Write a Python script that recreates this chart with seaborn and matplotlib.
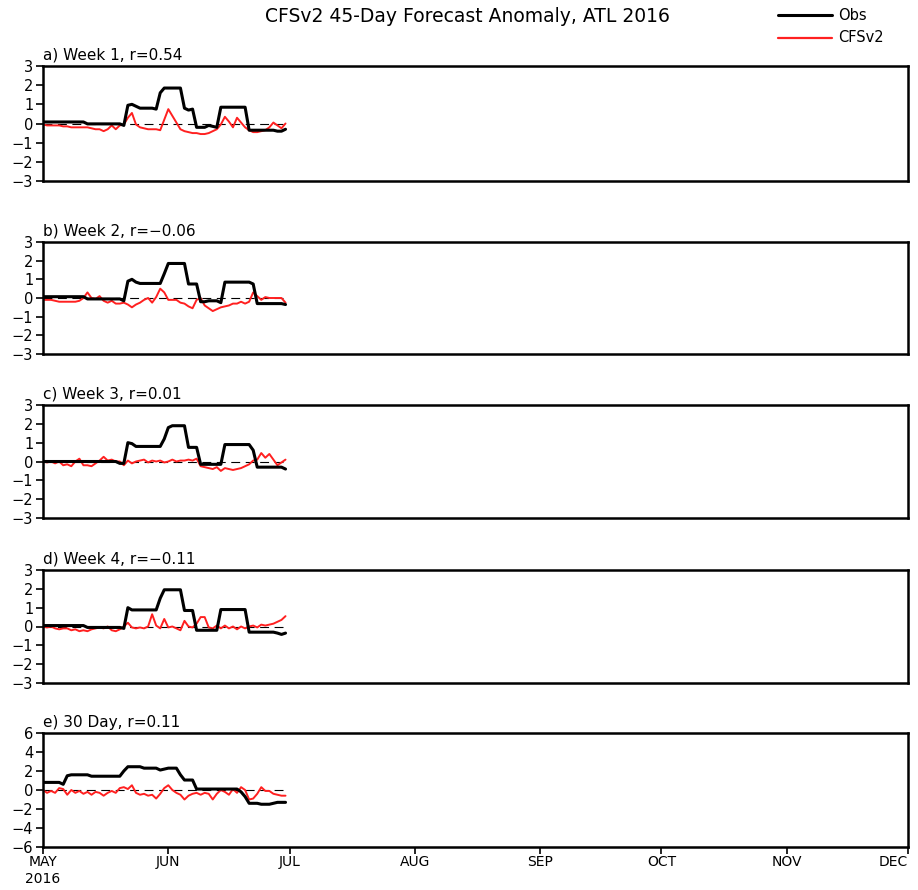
import numpy as np
import pandas as pd
import matplotlib
matplotlib.use("Agg")
import matplotlib.pyplot as plt
import matplotlib.dates as mdates
import seaborn as sns

# ---------------- data ----------------
dates = pd.date_range("2016-05-01", "2016-06-30", freq="D")

obs_a = ([0.08]*11 + [-0.02]*9 + [-0.1, 0.95, 1.0, 0.9, 0.8, 0.8, 0.8, 0.8, 0.75, 1.6,
         1.85, 1.85, 1.85, 1.85, 1.85, 0.8, 0.7, 0.75, -0.2, -0.2, -0.2, -0.1, -0.15, -0.2,
         0.85, 0.85, 0.85, 0.85, 0.85, 0.85, 0.85, -0.35, -0.35, -0.35, -0.35, -0.35, -0.35,
         -0.35, -0.4, -0.4, -0.3])
cfs_a = [-0.05, -0.1, -0.1, -0.1, -0.1, -0.15, -0.15, -0.2, -0.2, -0.2, -0.2, -0.2, -0.25,
         -0.3, -0.3, -0.4, -0.3, -0.1, -0.3, -0.1, -0.05, 0.3, 0.55, -0.05, -0.2, -0.25, -0.3,
         -0.3, -0.3, -0.35, 0.2, 0.75, 0.4, 0.05, -0.3, -0.4, -0.45, -0.5, -0.5, -0.55, -0.55,
         -0.5, -0.4, -0.3, -0.05, 0.35, 0.1, -0.2, 0.3, 0.05, -0.2, -0.35, -0.45, -0.45, -0.4,
         -0.35, -0.2, 0.05, -0.1, -0.25, 0.0]

obs_b = ([0.07]*11 + [-0.05]*9 + [-0.15, 0.9, 1.0, 0.85] + [0.78]*6 + [1.3] + [1.85]*5 +
         [0.75]*3 + [-0.2, -0.2, -0.15, -0.15, -0.15, -0.25] + [0.85]*7 + [0.75] +
         [-0.3]*7 + [-0.35])
cfs_b = [-0.1, -0.1, -0.1, -0.15, -0.2, -0.2, -0.2, -0.2, -0.2, -0.15, 0.0, 0.3, 0.0, -0.05,
         0.1, -0.15, -0.25, -0.15, -0.3, -0.3, -0.25, -0.35, -0.5, -0.35, -0.25, -0.1, 0.0,
         -0.25, 0.05, 0.5, 0.3, -0.1, -0.1, -0.1, -0.25, -0.3, -0.45, -0.55, -0.1, 0.0, -0.4,
         -0.55, -0.7, -0.6, -0.5, -0.45, -0.4, -0.3, -0.3, -0.2, -0.3, -0.2, 0.3, 0.1, -0.1,
         0.05, 0.0, 0.0, 0.0, 0.0, -0.25]

obs_c = ([0.0]*19 + [-0.1, -0.1, 1.0, 0.95] + [0.8]*7 + [1.2, 1.8] + [1.9]*4 + [0.75]*3 +
         [-0.15]*6 + [0.9]*7 + [0.6] + [-0.3]*7 + [-0.4])
cfs_c = [0.0, -0.05, 0.0, -0.1, 0.0, -0.2, -0.15, -0.25, 0.0, 0.15, -0.2, -0.2, -0.25, -0.1,
         0.05, 0.25, 0.05, 0.1, 0.0, 0.0, -0.2, 0.05, -0.1, 0.0, 0.05, 0.1, -0.05, 0.05, 0.0,
         0.05, -0.05, 0.0, 0.1, 0.0, 0.05, 0.05, 0.1, 0.05, 0.15, -0.25, -0.3, -0.35, -0.4,
         -0.3, -0.5, -0.35, -0.4, -0.45, -0.4, -0.35, -0.25, -0.15, 0.05, 0.1, 0.45, 0.2, 0.4,
         0.1, -0.2, -0.05, 0.1]

obs_d = ([0.05]*11 + [-0.05]*9 + [-0.1, 1.0] + [0.88]*7 + [1.5] + [1.95]*5 + [0.85]*3 +
         [-0.2]*6 + [0.9]*7 + [-0.3]*7 + [-0.35, -0.42, -0.35])
cfs_d = [0.0, -0.05, 0.0, -0.1, -0.15, -0.1, -0.1, -0.2, -0.15, -0.25, -0.2, -0.25, -0.15,
         -0.1, -0.05, -0.1, 0.0, -0.2, -0.25, -0.15, 0.0, 0.2, -0.05, -0.1, -0.05, -0.1, 0.0,
         0.65, 0.05, -0.1, 0.4, -0.05, 0.0, -0.1, -0.2, 0.3, 0.0, -0.05, 0.15, 0.5, 0.5, -0.05,
         -0.1, 0.05, -0.1, 0.05, -0.1, 0.0, -0.15, 0.0, -0.1, 0.0, 0.05, -0.05, 0.1, 0.05, 0.1,
         0.15, 0.25, 0.35, 0.55]

obs_e = ([0.8]*5 + [0.6, 1.5] + [1.6]*5 + [1.45]*8 + [2.0] + [2.45]*4 + [2.3]*4 + [2.1, 2.2] +
         [2.3]*3 + [1.6] + [1.05]*3 + [0.1]*11 + [-0.2, -0.7] + [-1.4]*3 + [-1.5]*3 +
         [-1.4] + [-1.3]*3)
cfs_e = [0.0, -0.3, -0.1, -0.3, 0.2, 0.1, -0.5, 0.0, -0.3, -0.1, -0.4, -0.2, -0.5, -0.2,
         -0.3, -0.6, -0.3, -0.1, -0.3, 0.2, 0.3, 0.1, 0.5, -0.3, -0.5, -0.4, -0.6, -0.5, -0.9,
         -0.4, 0.2, 0.5, 0.0, -0.3, -0.5, -1.0, -0.6, -0.4, -0.3, -0.5, -0.3, -0.4, -1.0, -0.4,
         0.0, -0.2, -0.5, 0.1, -0.3, 0.3, 0.0, -1.0, -0.9, -0.4, 0.3, -0.1, -0.1, -0.4, -0.5,
         -0.6, -0.6]

panel_titles = ["a) Week 1, r=0.54", "b) Week 2, r=\u22120.06", "c) Week 3, r=0.01",
                "d) Week 4, r=\u22120.11", "e) 30 Day, r=0.11"]
obs_list = [obs_a, obs_b, obs_c, obs_d, obs_e]
cfs_list = [cfs_a, cfs_b, cfs_c, cfs_d, cfs_e]
ylims = [(-3, 3)] * 4 + [(-6, 6)]
yticks = [list(range(-3, 4))] * 4 + [list(range(-6, 7, 2))]

month_ticks = pd.date_range("2016-05-01", "2016-12-01", freq="MS")
month_labels = ["MAY\n2016", "JUN", "JUL", "AUG", "SEP", "OCT", "NOV", "DEC"]

title = "CFSv2 45-Day Forecast Anomaly, ATL 2016"
series_names = ["Obs", "CFSv2"]
series_colors = {"Obs": "black", "CFSv2": "#ff2020"}

# ---------------- figure ----------------
sns.set_style("white")
plt.rcParams["font.family"] = ["DejaVu Sans"]
plt.rcParams["text.color"] = "black"
plt.rcParams["xtick.color"] = "black"
plt.rcParams["ytick.color"] = "black"
plt.rcParams["xtick.labelcolor"] = "black"
plt.rcParams["ytick.labelcolor"] = "black"

W, H = 918, 890
fig = plt.figure(figsize=(W / 100, H / 100), dpi=100)

boxes = [(66, 181), (242, 354), (405, 518), (570, 683), (733, 847)]
left_px, right_px = 43, 908

for i, (top, bot) in enumerate(boxes):
    ax = fig.add_axes([left_px / W, 1 - bot / H, (right_px - left_px) / W, (bot - top) / H])
    df = pd.DataFrame({
        "date": list(dates) * 2,
        "value": list(obs_list[i]) + list(cfs_list[i]),
        "series": ["Obs"] * len(dates) + ["CFSv2"] * len(dates),
    })
    ax.plot(dates, np.zeros(len(dates)), color="black", lw=0.8, ls=(0, (8, 5)), zorder=1)
    sns.lineplot(data=df[df.series == "CFSv2"], x="date", y="value",
                 color=series_colors["CFSv2"], lw=1.4, ax=ax, legend=False, zorder=2)
    sns.lineplot(data=df[df.series == "Obs"], x="date", y="value",
                 color=series_colors["Obs"], lw=2.2, ax=ax, legend=False, zorder=3)

    ax.set_xlim(month_ticks[0], month_ticks[-1])
    ax.set_ylim(*ylims[i])
    ax.set_yticks(yticks[i])
    ax.set_xlabel("")
    ax.set_ylabel("")
    for s in ax.spines.values():
        s.set_linewidth(1.8)
        s.set_color("black")
    ax.tick_params(axis="y", direction="out", length=5, width=1.2, labelsize=10.5, pad=2,
                   left=True)
    if i == 4:
        ax.set_xticks(month_ticks)
        ax.set_xticklabels(month_labels, fontsize=10)
        ax.tick_params(axis="x", direction="out", length=5, width=1.2, pad=1, bottom=True)
        ax.get_xticklabels()[-1].set_horizontalalignment("right")
    else:
        ax.set_xticks([])
    ax.text(0.0, 1.03, panel_titles[i], transform=ax.transAxes, ha="left", va="bottom",
            fontsize=11)

fig.text(467 / W, 1 - 17 / H, title, ha="center", va="center", fontsize=13.5)

leg_ax = fig.add_axes([770 / W, 1 - 50 / H, 140 / W, 45 / H])
leg_ax.set_axis_off()
leg_ax.set_xlim(0, 140)
leg_ax.set_ylim(45, 0)
for name, yy in zip(series_names, [10, 33]):
    leg_ax.plot([8, 62], [yy, yy], color=series_colors[name],
                lw=2.2 if name == "Obs" else 1.6)
    leg_ax.text(68, yy, name, va="center", ha="left", fontsize=10.5)

fig.savefig("out.png", dpi=100)
